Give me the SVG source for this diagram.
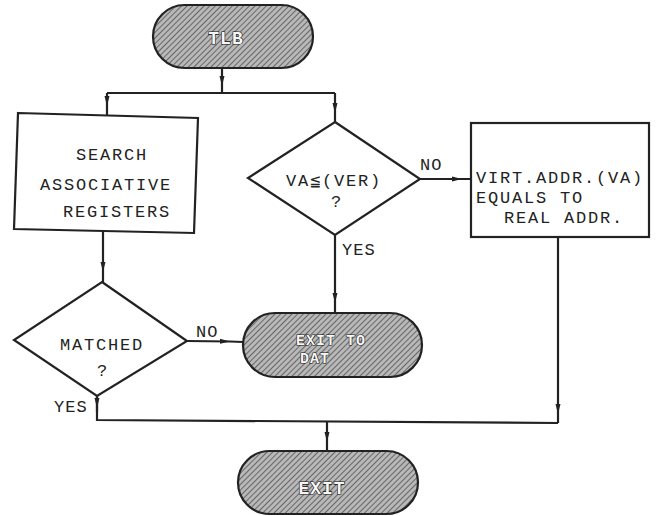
<svg xmlns="http://www.w3.org/2000/svg" width="659" height="516" viewBox="0 0 659 516">
  <defs>
    <pattern id="hatch" patternUnits="userSpaceOnUse" width="4" height="4" patternTransform="rotate(45)">
      <rect width="4" height="4" fill="#b8b8b8"/>
      <line x1="0" y1="0" x2="0" y2="4" stroke="#4a4a4a" stroke-width="1.5"/>
    </pattern>
    <marker id="arr" markerUnits="userSpaceOnUse" markerWidth="12" markerHeight="8" refX="10" refY="4" orient="auto">
      <path d="M0,1.5 L10,4 L0,6.5 Z" fill="#222"/>
    </marker>
  </defs>
  <style>
    .term { fill: url(#hatch); stroke: #222; stroke-width: 2.2; }
    .shape { fill: #fff; stroke: #222; stroke-width: 2.2; }
    .conn path { fill: none; stroke: #222; stroke-width: 2.2; marker-mid: url(#arr); }
    .t { font-family: "Liberation Mono", "DejaVu Sans Mono", monospace; font-size: 17px; letter-spacing: 1.8px; fill: #222; }
    .tt { font-family: "Liberation Mono", "DejaVu Sans Mono", monospace; font-size: 18px; font-weight: bold; letter-spacing: 1px; fill: #f6f6f6; stroke: #111; stroke-width: 1.2; paint-order: stroke; }
    .lbl { font-family: "Liberation Mono", "DejaVu Sans Mono", monospace; font-size: 17px; letter-spacing: 1px; fill: #222; }
  </style>
  <rect width="659" height="516" fill="#fff"/>

  <g id="conns" class="conn">
    <path d="M222,68 L222,86 L222,93"/>
    <path d="M107,93 L335,93" style="marker-mid:none"/>
    <path d="M107,93 L107,106 L107,115"/>
    <path d="M335,93 L335,113 L335,122"/>
    <path d="M103,232 L103,272 L103,282"/>
    <path d="M187,341 L230,341.5 L243,342"/>
    <path d="M420,179 L462,179 L471,179"/>
    <path d="M335,235 L335,303 L335,313"/>
    <path d="M97,396 L97,420 L558,423" style="marker-mid:none"/>
    <path d="M97,396 L97,408 L97,412"/>
    <path d="M558,237 L558,414 L558,423"/>
    <path d="M327,421.5 L327,442 L327,451"/>
  </g>

  <g id="tlb">
    <rect class="term" x="153" y="5" width="160" height="63" rx="31.5"/>
    <text class="tt" x="226" y="44" text-anchor="middle">TLB</text>
  </g>

  <g id="search">
    <polygon class="shape" points="18,113 198,118 194,233 14,229"/>
    <text class="t" x="112" y="160" text-anchor="middle">SEARCH</text>
    <text class="t" x="106" y="190" text-anchor="middle">ASSOCIATIVE</text>
    <text class="t" x="117" y="217" text-anchor="middle">REGISTERS</text>
  </g>

  <g id="cmp">
    <polygon class="shape" points="335,122 420,179 335,235 248,178"/>
    <text class="t" x="334" y="186" text-anchor="middle">VA≦(VER)</text>
    <text class="t" x="337" y="207" text-anchor="middle">?</text>
  </g>

  <g id="virt">
    <rect class="shape" x="471" y="123" width="178" height="114"/>
    <text class="t" x="476" y="183">VIRT.ADDR.(VA)</text>
    <text class="t" x="476" y="203">EQUALS TO</text>
    <text class="t" x="504" y="223">REAL ADDR.</text>
  </g>

  <g id="matched">
    <polygon class="shape" points="102,282 187,341 97,396 14,340"/>
    <text class="t" x="102" y="350" text-anchor="middle">MATCHED</text>
    <text class="t" x="103" y="376" text-anchor="middle">?</text>
  </g>

  <g id="exitdat">
    <rect class="term" x="243" y="313" width="179" height="64" rx="32"/>
    <text class="tt" x="331" y="345" text-anchor="middle" style="font-size:15px">EXIT TO</text>
    <text class="tt" x="315" y="363" text-anchor="middle" style="font-size:15px">DAT</text>
  </g>

  <g id="exit">
    <rect class="term" x="238" y="451" width="180" height="63" rx="31.5"/>
    <text class="tt" x="322" y="494" text-anchor="middle">EXIT</text>
  </g>

  <g id="labels">
    <text class="lbl" x="420" y="170">NO</text>
    <text class="lbl" x="342" y="255">YES</text>
    <text class="lbl" x="196" y="337">NO</text>
    <text class="lbl" x="54" y="412">YES</text>
  </g>
</svg>
